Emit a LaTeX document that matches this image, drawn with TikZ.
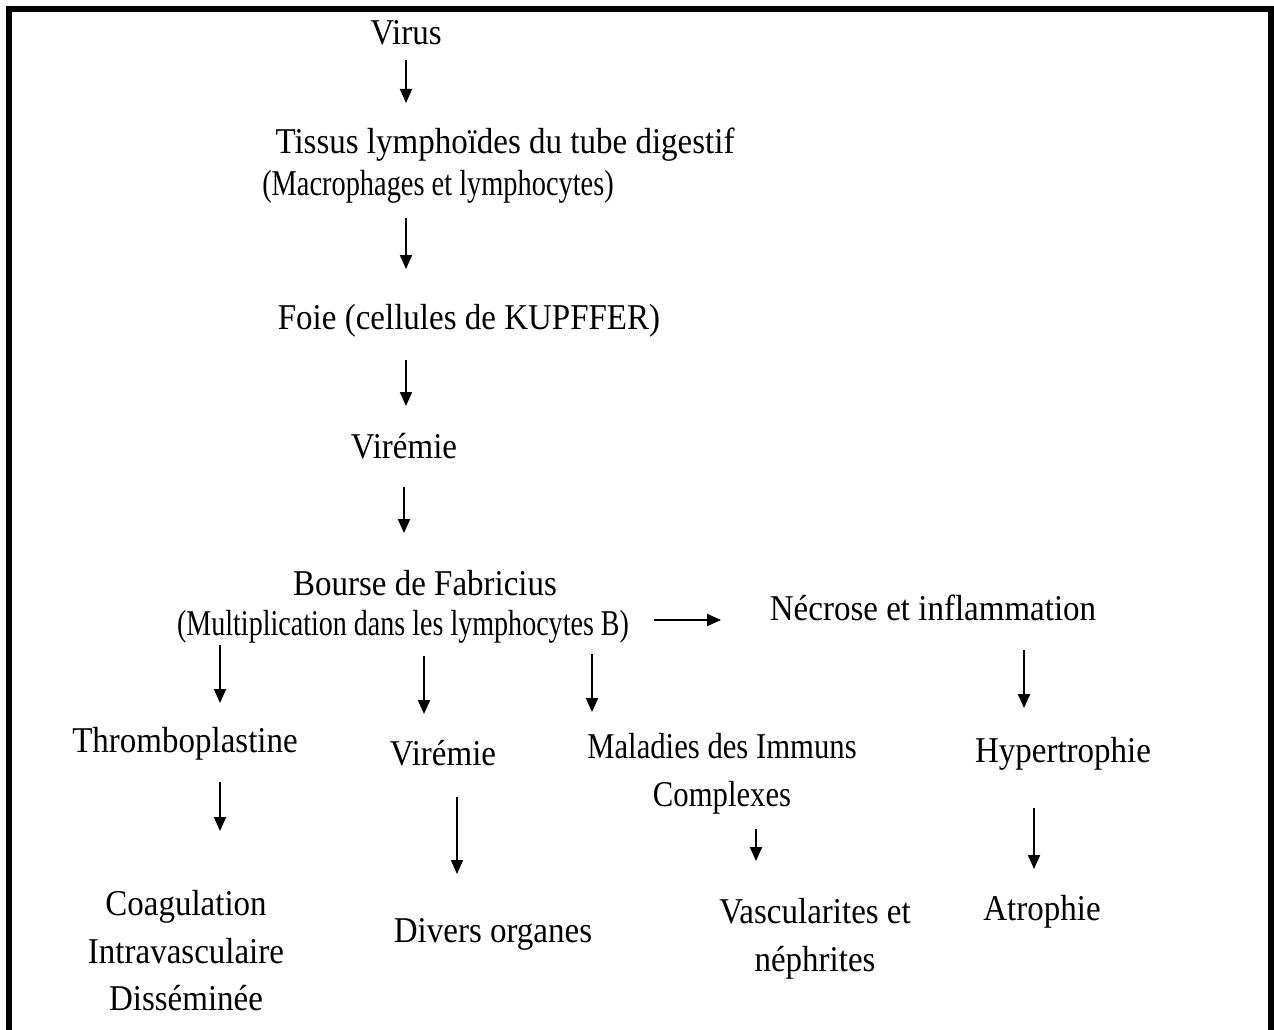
\documentclass[tikz,border=0pt]{standalone}
\usepackage{fontspec}
\setmainfont{Liberation Serif}
\usetikzlibrary{arrows.meta}
\newcommand\vst[2][1]{\scalebox{#1}[1.1]{#2}}
\begin{document}
\begin{tikzpicture}[x=1pt,y=-1pt,
  lbl/.style={inner sep=0pt, font=\fontsize{33}{47.5}\selectfont, align=center},
  arr/.style={line width=2pt, -{Triangle[length=14pt,width=12pt]}},
]
\useasboundingbox (0,0) rectangle (1274,1030);
% frame
\fill[black] (6,6) rectangle (1274,12);
\fill[black] (6,6) rectangle (12,1030);
\fill[black] (1268,6) rectangle (1274,1030);

% nodes
\node[lbl] (virus) at (406,33) {\vst{Virus}};
\node[lbl] (tissus) at (505,145) {\vst{Tissus lymphoïdes du tube digestif}};
\node[lbl] (macro) at (438,187) {\vst[0.86]{(Macrophages et lymphocytes)}};
\node[lbl] (foie) at (469,321) {\vst{Foie (cellules de KUPFFER)}};
\node[lbl] (viremie) at (404,446) {\vst{Virémie}};
\node[lbl] (bourse) at (425,583) {\vst{Bourse de Fabricius}};
\node[lbl] (multi) at (403,627) {\vst[0.85]{(Multiplication dans les lymphocytes B)}};
\node[lbl] (necrose) at (933,608) {\vst{Nécrose et inflammation}};
\node[lbl] (thrombo) at (185,744) {\vst{Thromboplastine}};
\node[lbl] (viremieb) at (443,753) {\vst{Virémie}};
\node[lbl] (maladies) at (722,774) {\vst[0.93]{Maladies des Immuns}\\\vst[0.93]{Complexes}};
\node[lbl] (hyper) at (1063,754) {\vst{Hypertrophie}};
\node[lbl] (coag) at (186,951) {\vst{Coagulation}\\\vst{Intravasculaire}\\\vst{Disséminée}};
\node[lbl] (divers) at (493,934) {\vst{Divers organes}};
\node[lbl] (vascu) at (815,939) {\vst{Vascularites et}\\\vst{néphrites}};
\node[lbl] (atrophie) at (1042,912) {\vst{Atrophie}};

% arrow end points
\coordinate (a1s) at (406,60);   \coordinate (a1e) at (406,103);
\coordinate (a2s) at (406,218);  \coordinate (a2e) at (406,269);
\coordinate (a3s) at (406,360);  \coordinate (a3e) at (406,406);
\coordinate (a4s) at (404,487);  \coordinate (a4e) at (404,533);
\coordinate (a5s) at (654,620);  \coordinate (a5e) at (721,620);
\coordinate (a6s) at (1024,650); \coordinate (a6e) at (1024,708);
\coordinate (a7s) at (220,645);  \coordinate (a7e) at (220,703);
\coordinate (a8s) at (424,656);  \coordinate (a8e) at (424,714);
\coordinate (a9s) at (592,654);  \coordinate (a9e) at (592,712);
\coordinate (a10s) at (220,782); \coordinate (a10e) at (220,831);
\coordinate (a11s) at (457,797); \coordinate (a11e) at (457,874);
\coordinate (a12s) at (756,829); \coordinate (a12e) at (756,861);
\coordinate (a13s) at (1034,808);\coordinate (a13e) at (1034,869);

\draw[arr] (a1s) -- (a1e);
\draw[arr] (a2s) -- (a2e);
\draw[arr] (a3s) -- (a3e);
\draw[arr] (a4s) -- (a4e);
\draw[arr] (a5s) -- (a5e);
\draw[arr] (a6s) -- (a6e);
\draw[arr] (a7s) -- (a7e);
\draw[arr] (a8s) -- (a8e);
\draw[arr] (a9s) -- (a9e);
\draw[arr] (a10s) -- (a10e);
\draw[arr,line width=1.5pt] (a11s) -- (a11e);
\draw[arr] (a12s) -- (a12e);
\draw[arr] (a13s) -- (a13e);
\end{tikzpicture}
\end{document}
